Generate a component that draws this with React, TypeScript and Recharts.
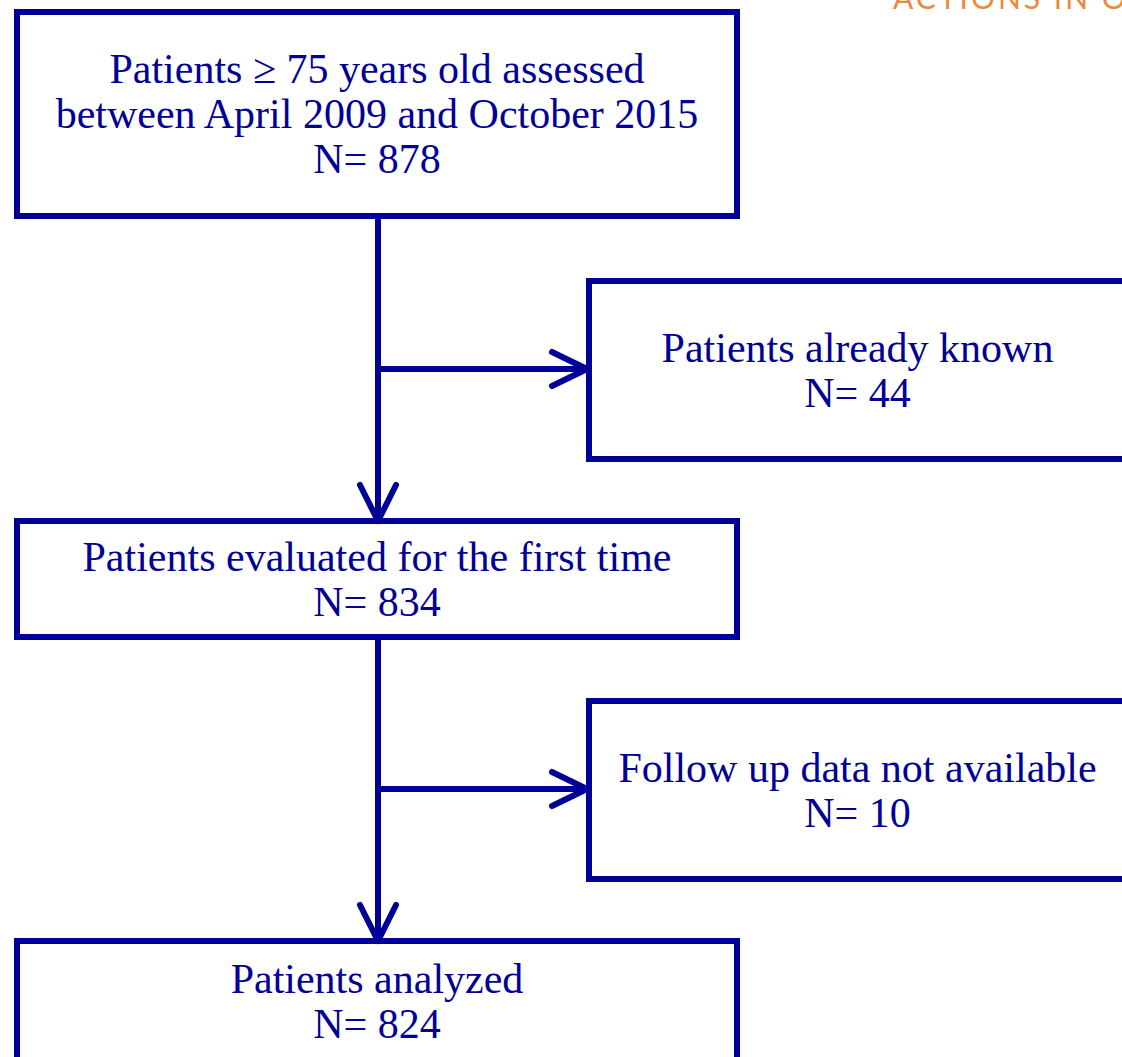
import React from "react";
import { ComposedChart, XAxis, YAxis, ReferenceArea, ReferenceLine, ReferenceDot } from "recharts";

// flow stages (main column) and exclusions (side boxes)
const STAGE_LINES = [
  ["Patients ≥ 75 years old assessed", "between April 2009 and October 2015"],
  ["Patients evaluated for the first time"],
  ["Patients analyzed"],
];
const STAGE_N = [878, 834, 824];
const EXCLUDED_LINES = ["Patients already known", "Follow up data not available"];
const EXCLUDED_N = [44, 10];
const HEADER = "ACTIONS IN O";

const W = 1122;
const H = 1057;
const NAVY = "#000096";
const ORANGE = "#eb8a3c";
const FONT = "'Liberation Serif', 'Times New Roman', serif";

// layout in page pixels (x to the right, y downwards)
const MAIN = { x1: 17, x2: 737, cx: 378 };
const STAGE_Y = [
  [12, 216],
  [521, 637],
  [941, 1062],
];
const SIDE = { x1: 589, x2: 1126 };
const SIDE_Y = [
  [281, 459],
  [701, 879],
];
const BRANCH_Y = [369, 789];

const boxText = (lines: string[]) => (props: any) => {
  const vb = props.viewBox || {};
  const cx = vb.x + vb.width / 2;
  const cy = vb.y + vb.height / 2;
  const first = cy + 14 - ((lines.length - 1) * 45) / 2;
  return (
    <text textAnchor="middle" fill={NAVY} fontFamily={FONT} fontSize={42}>
      {lines.map((l, i) => (
        <tspan key={i} x={cx} y={first + i * 45}>
          {l}
        </tspan>
      ))}
    </text>
  );
};

const seg = (x1: number, y1: number, x2: number, y2: number, key: string) => (
  <ReferenceLine
    key={key}
    segment={[
      { x: x1, y: y1 },
      { x: x2, y: y2 },
    ]}
    stroke={NAVY}
    strokeWidth={6}
    strokeLinecap="round"
    ifOverflow="visible"
  />
);

export default function App() {
  const lines: React.ReactNode[] = [];
  // vertical trunk between stages with arrowheads
  for (let i = 0; i < STAGE_Y.length - 1; i++) {
    const top = STAGE_Y[i][1];
    const tip = STAGE_Y[i + 1][0];
    lines.push(seg(MAIN.cx, top, MAIN.cx, tip, `v${i}`));
    lines.push(seg(MAIN.cx - 18, tip - 36, MAIN.cx, tip, `va${i}`));
    lines.push(seg(MAIN.cx + 18, tip - 36, MAIN.cx, tip, `vb${i}`));
  }
  // side branches
  BRANCH_Y.forEach((y, i) => {
    const tip = SIDE.x1 - 2;
    lines.push(seg(MAIN.cx, y, tip, y, `h${i}`));
    lines.push(seg(tip - 35, y - 17, tip, y, `ha${i}`));
    lines.push(seg(tip - 35, y + 17, tip, y, `hb${i}`));
  });

  return (
    <div style={{ position: "absolute", left: 0, top: 0 }}>
      <ComposedChart width={W} height={H} data={[]} margin={{ top: 0, right: 0, bottom: 0, left: 0 }}>
        <XAxis type="number" dataKey="x" domain={[0, W]} hide allowDataOverflow />
        <YAxis type="number" dataKey="y" domain={[0, H]} reversed hide allowDataOverflow />
        {lines}
        {STAGE_LINES.map((l, i) => (
          <ReferenceArea
            key={`s${i}`}
            x1={MAIN.x1}
            x2={MAIN.x2}
            y1={STAGE_Y[i][0]}
            y2={STAGE_Y[i][1]}
            fill="#ffffff"
            fillOpacity={1}
            stroke={NAVY}
            strokeWidth={6}
            ifOverflow="visible"
            label={{ content: boxText([...l, `N= ${STAGE_N[i]}`]) }}
          />
        ))}
        {EXCLUDED_LINES.map((l, i) => (
          <ReferenceArea
            key={`e${i}`}
            x1={SIDE.x1}
            x2={SIDE.x2}
            y1={SIDE_Y[i][0]}
            y2={SIDE_Y[i][1]}
            fill="#ffffff"
            fillOpacity={1}
            stroke={NAVY}
            strokeWidth={6}
            ifOverflow="visible"
            label={{ content: boxText([l, `N= ${EXCLUDED_N[i]}`]) }}
          />
        ))}
        <ReferenceDot
          x={893}
          y={9}
          r={0}
          ifOverflow="visible"
          label={{
            content: (p: any) => (
              <text
                x={p.viewBox?.cx ?? p.viewBox?.x ?? 893}
                y={9}
                fill={ORANGE}
                fontFamily="Lato, 'DejaVu Sans', sans-serif"
                fontSize={30}
                letterSpacing={3}
              >
                {HEADER}
              </text>
            ),
          }}
        />
      </ComposedChart>
    </div>
  );
}
